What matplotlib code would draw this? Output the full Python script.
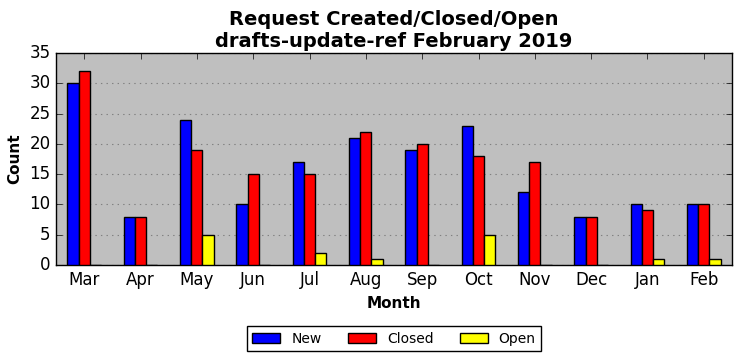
import matplotlib
matplotlib.use("Agg")
import matplotlib.pyplot as plt
import numpy as np

plt.style.use('classic')

months = ['Mar', 'Apr', 'May', 'Jun', 'Jul', 'Aug', 'Sep', 'Oct', 'Nov', 'Dec', 'Jan', 'Feb']
new = [30, 8, 24, 10, 17, 21, 19, 23, 12, 8, 10, 10]
closed = [32, 8, 19, 15, 15, 22, 20, 18, 17, 8, 9, 10]
opened = [0, 0, 5, 0, 2, 1, 0, 5, 0, 0, 1, 1]

fig = plt.figure(figsize=(7.42, 3.61), dpi=100, facecolor='white')
ax = fig.add_axes([56 / 742, 1 - 265 / 361, 676 / 742, 212 / 361])
ax.set_facecolor('#bfbfbf')
ax.set_axisbelow(True)

x = np.arange(len(months))
w = 0.2
ax.bar(x - w, new, w, color='blue', edgecolor='black', linewidth=1, label='New', zorder=3)
ax.bar(x, closed, w, color='red', edgecolor='black', linewidth=1, label='Closed', zorder=3)
ax.bar(x + w, opened, w, color='yellow', edgecolor='black', linewidth=1, label='Open', zorder=3)

ax.set_xlim(-0.5, len(months) - 0.5)
ax.set_ylim(0, 35)
ax.set_yticks(range(0, 36, 5))
ax.set_xticks(x)
ax.set_xticklabels(months)
ax.yaxis.grid(True, linestyle=':', color='gray', linewidth=0.8)
ax.xaxis.grid(False)
ax.tick_params(labelsize=12)

ax.set_title('Request Created/Closed/Open\ndrafts-update-ref February 2019',
             fontsize=14, fontweight='bold', y=0.995)
ax.set_xlabel('Month', fontsize=11, fontweight='bold')
ax.set_ylabel('Count', fontsize=11, fontweight='bold')

ax.legend(loc='upper center', bbox_to_anchor=(0.5, -0.255), ncol=3,
          fontsize=10, frameon=True, fancybox=False, columnspacing=1.9)

fig.savefig('out.png', dpi=100, facecolor='white')
